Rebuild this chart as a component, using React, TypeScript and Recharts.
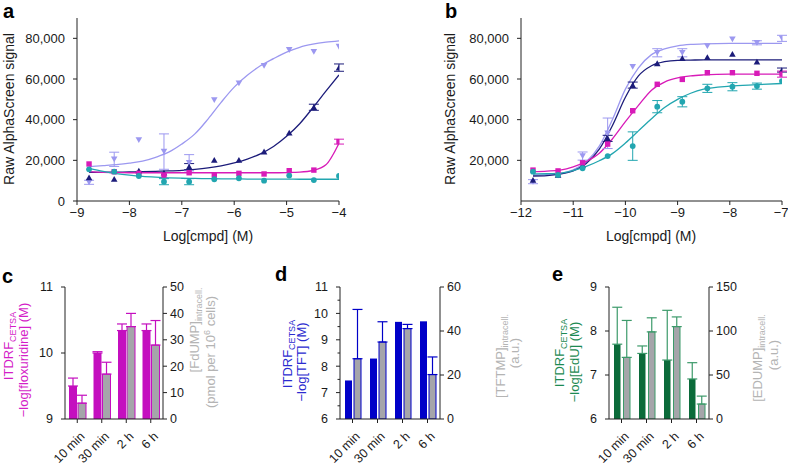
import { Bar, ComposedChart, ErrorBar, Line, Scatter, XAxis, YAxis } from "recharts";

const FONT = '"Liberation Sans", Arial, sans-serif';
const INK = "#1a1a1a";

// ---- panels a / b: AlphaScreen dose-response ----
const doseA = [-8.77, -8.29, -7.82, -7.34, -6.86, -6.38, -5.91, -5.43, -4.95, -4.48, -4.0];
const aLavender = [9200, 20500, 30000, 24300, 18800, 49700, 57900, 66500, 74300, 73400, 75900];
const aLavenderErr = [1000, 3500, null, 8700, 4000, null, null, null, null, null, null];
const aNavy = [11600, 10800, 14900, 13900, 16900, 20200, 20200, 24300, 33600, 46100, 65600];
const aNavyErr = [null, null, null, null, 1500, null, null, null, null, 1500, 1800];
const aMagenta = [18200, 14400, 13600, 12800, 13900, 12800, 13600, 13300, 14900, 15200, 29200];
const aMagentaErr = [null, null, null, null, null, null, null, null, null, null, 1200];
const aTeal = [15600, 14400, 12300, 9500, 9500, 10700, 11200, 10000, 12500, 10300, 12300];
const aTealErr = [null, null, null, 1500, 1500, null, null, null, null, null, null];

// fitted curves
const fitA = [-8.77, -8.5, -8.25, -8, -7.75, -7.5, -7.25, -7, -6.75, -6.5, -6.25, -6, -5.75, -5.5, -5.25, -5, -4.75, -4.5, -4.25, -4];
const fitALavender = [16900, 17400, 17900, 18600, 19600, 21500, 24000, 28000, 33000, 40300, 48500, 56000, 61800, 66500, 70000, 73200, 75600, 77100, 78100, 78800];
const fitANavy = [14100, 14100, 14200, 14300, 14400, 14600, 14800, 15100, 15600, 16300, 17300, 18700, 20600, 23200, 26800, 31800, 38000, 45800, 54000, 62000];
const fitAMagenta = [14400, 14100, 14000, 13900, 13900, 13900, 13900, 13900, 13900, 13900, 13900, 13900, 13900, 13900, 13900, 14000, 14200, 15000, 17800, 28400];
const fitATeal = [16100, 14600, 13500, 12700, 12100, 11700, 11400, 11200, 11100, 11000, 10900, 10900, 10800, 10800, 10800, 10800, 10700, 10700, 10700, 10700];

const doseB = [-11.77, -11.29, -10.82, -10.34, -9.86, -9.39, -8.91, -8.43, -7.95, -7.48, -7.0];
const bLavender = [9500, 12500, 22100, 33300, 66000, 72900, 72900, 76200, 79500, 77800, 80000];
const bLavenderErr = [1000, null, 2000, 7500, null, 2000, 2000, null, null, 1000, 1500];
const bNavy = [10300, 12800, 17700, 30800, 57000, 67700, 70200, 70700, 72300, 68500, 64400];
const bNavyErr = [null, null, null, 1500, 1500, null, null, null, null, null, 1000];
const bMagenta = [15200, 14800, 18800, 28000, 44400, 57400, 59800, 63100, 63100, 62800, 62400];
const bMagentaErr = [null, null, null, null, null, null, null, null, null, null, 1500];
const bTeal = [14400, 12800, 16100, 22100, 27000, 46400, 48800, 55400, 56200, 56500, 59000];
const bTealErr = [null, null, null, null, 7000, 3000, 2500, 2000, 2000, 1500, null];

const fitB = [-11.77, -11.5, -11.25, -11, -10.75, -10.5, -10.25, -10, -9.75, -9.5, -9.25, -9, -8.75, -8.5, -8, -7.5, -7];
const fitBLavender = [12800, 13000, 13500, 15300, 19300, 27000, 40000, 55000, 65500, 72000, 74800, 76300, 77000, 77300, 77500, 77500, 77500];
const fitBNavy = [12300, 12500, 13200, 14800, 18500, 25500, 37000, 51000, 61500, 66500, 68500, 69200, 69300, 69400, 69400, 69400, 69400];
const fitBMagenta = [14400, 14700, 15200, 16800, 19500, 23500, 30500, 39000, 47000, 54500, 58500, 60500, 61500, 62000, 62400, 62400, 62400];
const fitBTeal = [13300, 13400, 13700, 15000, 17000, 19800, 23300, 28500, 34500, 40500, 46000, 50000, 53000, 55000, 56500, 57200, 57800];

const signalTicksA = [0, 20000, 40000, 60000, 80000];
const signalTicksB = [20000, 40000, 60000, 80000];
const logTicksA = [-9, -8, -7, -6, -5, -4];
const logTicksB = [-12, -11, -10, -9, -8, -7];

// ---- panels c / d / e: ITDRF vs intracellular nucleotide ----
const times = ["10 min", "30 min", "2 h", "6 h"];
const floxItdrf = [9.5, 10.0, 10.34, 10.34];
const floxItdrfErr = [0.12, 0.02, 0.1, 0.1];
const fdump = [6, 17, 35, 28];
const fdumpErr = [3, 4.5, 5, 9.3];
const tftItdrf = [7.46, 8.29, 9.68, 9.7];
const tftmp = [27.4, 35, 41.1, 20.2];
const tftmpErr = [22.4, 9.2, 1.9, 8];
const eduItdrf = [7.7, 7.49, 7.34, 6.91];
const eduItdrfErr = [0.84, 0.17, 1.13, 0.37];
const edump = [70, 99, 105, 17];
const edumpErr = [42, 16, 11, 9];

const C = {
  lavender: "#9c98f0",
  navy: "#1c1c7a",
  magenta: "#d81bb8",
  teal: "#22a6b0",
  flox: "#c40fbf",
  floxText: "#d41ec8",
  tft: "#0000c8",
  tftText: "#2b2bd0",
  edu: "#0b6b3a",
  eduErr: "#3c9a6a",
  eduText: "#1d8a52",
  gray: "#a5a5aa",
  grayText: "#b4b4b4",
};

const pts = (dose: number[], y: number[], err: (number | null)[]) =>
  dose.map((x, i) => ({ x, y: y[i], err: err[i] }));
const fit = (xs: number[], ys: number[]) => xs.map((x, i) => ({ x, y: ys[i] }));

const minus = (v: number) => (v < 0 ? "\u2212" + Math.abs(v) : String(v));
const thousands = (v: number) => v.toLocaleString("en-US");

const shapes: Record<string, (p: any) => any> = {
  down: (p) => <path d={`M${p.cx - 3.3},${p.cy - 2.8}h6.6l-3.3,5.8z`} fill={p.fill} />,
  up: (p) => <path d={`M${p.cx - 3.3},${p.cy + 2.8}h6.6l-3.3,-5.8z`} fill={p.fill} />,
  square: (p) => <rect x={p.cx - 2.7} y={p.cy - 2.7} width={5.4} height={5.4} fill={p.fill} />,
  circle: (p) => <circle cx={p.cx} cy={p.cy} r={2.9} fill={p.fill} />,
};

type Series = { name: string; color: string; shape: string; points: any[]; curve: any[] };

function DoseChart({ series, domain, ticks, yTicks, margin, width }: any) {
  const tickStyle = { fill: INK, fontSize: 13, fontFamily: FONT };
  return (
    <ComposedChart width={width} height={245} margin={margin}>
      <XAxis
        type="number"
        dataKey="x"
        domain={domain}
        ticks={ticks}
        allowDataOverflow
        tickFormatter={minus}
        tick={tickStyle}
        tickSize={4}
        tickMargin={3}
        height={44}
        stroke="#222"
      />
      <YAxis
        type="number"
        dataKey="y"
        domain={[0, 90000]}
        ticks={yTicks}
        allowDataOverflow
        tickFormatter={thousands}
        tick={tickStyle}
        tickSize={4}
        tickMargin={8}
        width={60}
        stroke="#222"
      />
      {series.map((s: Series) => (
        <Line
          key={s.name + "-fit"}
          data={s.curve}
          dataKey="y"
          type="monotone"
          stroke={s.color}
          strokeWidth={1.3}
          dot={false}
          isAnimationActive={false}
        />
      ))}
      {series.map((s: Series) => (
        <Scatter
          key={s.name}
          data={s.points}
          dataKey="y"
          fill={s.color}
          shape={shapes[s.shape]}
          isAnimationActive={false}
        >
          <ErrorBar dataKey="err" direction="y" width={5} stroke={s.color} strokeWidth={1} />
        </Scatter>
      ))}
    </ComposedChart>
  );
}

const seriesA: Series[] = [
  { name: "lavender", color: C.lavender, shape: "down", points: pts(doseA, aLavender, aLavenderErr), curve: fit(fitA, fitALavender) },
  { name: "navy", color: C.navy, shape: "up", points: pts(doseA, aNavy, aNavyErr), curve: fit(fitA, fitANavy) },
  { name: "magenta", color: C.magenta, shape: "square", points: pts(doseA, aMagenta, aMagentaErr), curve: fit(fitA, fitAMagenta) },
  { name: "teal", color: C.teal, shape: "circle", points: pts(doseA, aTeal, aTealErr), curve: fit(fitA, fitATeal) },
];
const seriesB: Series[] = [
  { name: "lavender", color: C.lavender, shape: "down", points: pts(doseB, bLavender, bLavenderErr), curve: fit(fitB, fitBLavender) },
  { name: "navy", color: C.navy, shape: "up", points: pts(doseB, bNavy, bNavyErr), curve: fit(fitB, fitBNavy) },
  { name: "magenta", color: C.magenta, shape: "square", points: pts(doseB, bMagenta, bMagentaErr), curve: fit(fitB, fitBMagenta) },
  { name: "teal", color: C.teal, shape: "circle", points: pts(doseB, bTeal, bTealErr), curve: fit(fitB, fitBTeal) },
];

// value-axis tick: draws its own tick mark so minor ticks can be shorter
function ValueTick({ x, y, payload, side, minor }: any) {
  const v = payload.value;
  const major = !minor || Number.isInteger(v / minor.every);
  const len = major ? 4 : 2.5;
  const dir = side === "left" ? -1 : 1;
  return (
    <g>
      <line x1={x} x2={x + dir * len} y1={y} y2={y} stroke="#222" strokeWidth={1} />
      {major && (
        <text
          x={x + dir * (side === "left" ? 12 : 7)}
          y={y}
          dy="0.35em"
          textAnchor={side === "left" ? "end" : "start"}
          fontSize={12.5}
          fontFamily={FONT}
          fill={INK}
        >
          {v}
        </text>
      )}
    </g>
  );
}

function TimeTick({ x, y, payload }: any) {
  const tx = x + 5;
  const ty = y + 9;
  return (
    <text
      x={tx}
      y={ty}
      transform={`rotate(-45, ${tx}, ${ty})`}
      textAnchor="end"
      dy="0.35em"
      fontSize={12.5}
      fontFamily={FONT}
      fill={INK}
    >
      {payload.value}
    </text>
  );
}

function TimeChart({ data, left, right, width, margin, color, errColor, barSize, barGap, leftErr }: any) {
  return (
    <ComposedChart width={width} height={195} margin={margin} data={data} barSize={barSize} barGap={barGap}>
      <XAxis dataKey="t" type="category" height={46} interval={0} tick={<TimeTick />} tickSize={4} stroke="#222" />
      <YAxis
        yAxisId="L"
        orientation="left"
        width={40}
        domain={left.domain}
        ticks={left.ticks}
        allowDataOverflow
        tickLine={false}
        tickSize={0}
        tickMargin={0}
        interval={0}
        tick={<ValueTick side="left" minor={left.minor} />}
        stroke="#222"
      />
      <YAxis
        yAxisId="R"
        orientation="right"
        width={30}
        domain={right.domain}
        ticks={right.ticks}
        allowDataOverflow
        tickLine={false}
        tickSize={0}
        tickMargin={0}
        interval={0}
        tick={<ValueTick side="right" />}
        stroke="#222"
      />
      <Bar yAxisId="L" dataKey="itdrf" fill={color} isAnimationActive={false}>
        {leftErr && <ErrorBar dataKey="itdrfErr" direction="y" width={5} stroke={errColor} strokeWidth={1.2} />}
      </Bar>
      <Bar yAxisId="R" dataKey="conc" fill={C.gray} stroke={errColor} strokeWidth={1} isAnimationActive={false}>
        <ErrorBar dataKey="concErr" direction="y" width={5} stroke={errColor} strokeWidth={1.2} />
      </Bar>
    </ComposedChart>
  );
}

const rows = (itdrf: number[], itdrfErr: number[] | null, conc: number[], concErr: number[]) =>
  times.map((t, i) => ({
    t,
    itdrf: itdrf[i],
    itdrfErr: itdrfErr ? [0, itdrfErr[i]] : undefined,
    conc: conc[i],
    concErr: [0, concErr[i]],
  }));

function VText({ x, y, color, size = 13, children }: any) {
  return (
    <text
      x={x}
      y={y}
      transform={`rotate(-90, ${x}, ${y})`}
      textAnchor="middle"
      fontSize={size}
      fontFamily={FONT}
      fill={color}
    >
      {children}
    </text>
  );
}

const Sub = ({ children }: any) => (
  <tspan fontSize={9} dy={3}>
    {children}
  </tspan>
);

function Overlay() {
  const letter = { fontSize: 20, fontWeight: 700, fontFamily: FONT, fill: "#000" };
  return (
    <svg width={788} height={465} style={{ position: "absolute", left: 0, top: 0, pointerEvents: "none" }}>
      <text x={3} y={18} {...letter}>a</text>
      <text x={445} y={18} {...letter}>b</text>
      <text x={2} y={283} {...letter}>c</text>
      <text x={275} y={281} {...letter}>d</text>
      <text x={552} y={281} {...letter}>e</text>

      <VText x={14} y={109} color={INK} size={14}>Raw AlphaScreen signal</VText>
      <VText x={455} y={109} color={INK} size={14}>Raw AlphaScreen signal</VText>
      <text x={208} y={241} textAnchor="middle" fontSize={14} fontFamily={FONT} fill={INK}>Log[cmpd] (M)</text>
      <text x={651} y={241} textAnchor="middle" fontSize={14} fontFamily={FONT} fill={INK}>Log[cmpd] (M)</text>

      <VText x={13} y={346} color={C.floxText}>ITDRF<Sub>CETSA</Sub></VText>
      <VText x={27.5} y={360} color={C.floxText}>{"\u2212log[floxuridine] (M)"}</VText>
      <VText x={199} y={330} color={C.grayText}>[FdUMP]<Sub>intracell.</Sub></VText>
      <VText x={215} y={352} color={C.grayText}>
        (pmol per 10<tspan fontSize={9} dy={-5}>6</tspan>
        <tspan dy={5}> cells)</tspan>
      </VText>

      <VText x={292} y={354} color={C.tftText}>ITDRF<Sub>CETSA</Sub></VText>
      <VText x={306} y={362} color={C.tftText}>{"\u2212log[TFT] (M)"}</VText>
      <VText x={505} y={356} color={C.grayText}>[TFTMP]<Sub>intracell.</Sub></VText>
      <VText x={519} y={353} color={C.grayText}>(a.u.)</VText>

      <VText x={564} y={353} color={C.eduText}>ITDRF<Sub>CETSA</Sub></VText>
      <VText x={579} y={362} color={C.eduText}>{"\u2212log[EdU] (M)"}</VText>
      <VText x={762} y={358} color={C.grayText}>[EDUMP]<Sub>intracell.</Sub></VText>
      <VText x={778} y={355} color={C.grayText}>(a.u.)</VText>
    </svg>
  );
}

const box = (left: number, top: number) => ({ position: "absolute" as const, left, top });

export default function App() {
  return (
    <div style={{ position: "absolute", left: 0, top: 0, width: 788, height: 465, background: "#fff", fontFamily: FONT }}>
      <div style={box(0, 0)}>
        <DoseChart
          series={seriesA}
          domain={[-9, -4]}
          ticks={logTicksA}
          yTicks={signalTicksA}
          width={350}
          margin={{ top: 18, right: 11, left: 17, bottom: 0 }}
        />
      </div>
      <div style={box(440, 0)}>
        <DoseChart
          series={seriesB}
          domain={[-12, -7]}
          ticks={logTicksB}
          yTicks={signalTicksB}
          width={348}
          margin={{ top: 18, right: 6, left: 21, bottom: 0 }}
        />
      </div>
      <div style={box(0, 270)}>
        <TimeChart
          data={rows(floxItdrf, floxItdrfErr, fdump, fdumpErr)}
          left={{ domain: [9, 11], ticks: [9, 10, 11] }}
          right={{ domain: [0, 50], ticks: [0, 10, 20, 30, 40, 50] }}
          width={240}
          margin={{ top: 17, right: 47, left: 25, bottom: 0 }}
          color={C.flox}
          errColor={C.flox}
          barSize={8}
          barGap={1}
          leftErr
        />
      </div>
      <div style={box(260, 270)}>
        <TimeChart
          data={rows(tftItdrf, null, tftmp, tftmpErr)}
          left={{ domain: [6, 11], ticks: [6, 6.5, 7, 7.5, 8, 8.5, 9, 9.5, 10, 10.5, 11], minor: { every: 1 } }}
          right={{ domain: [0, 60], ticks: [0, 20, 40, 60] }}
          width={240}
          margin={{ top: 17, right: 30, left: 40, bottom: 0 }}
          color={C.tft}
          errColor={C.tft}
          barSize={7}
          barGap={2}
        />
      </div>
      <div style={box(520, 270)}>
        <TimeChart
          data={rows(eduItdrf, eduItdrfErr, edump, edumpErr)}
          left={{ domain: [6, 9], ticks: [6, 7, 8, 9] }}
          right={{ domain: [0, 150], ticks: [0, 50, 100, 150] }}
          width={268}
          margin={{ top: 17, right: 49, left: 49, bottom: 0 }}
          color={C.edu}
          errColor={C.eduErr}
          barSize={6.5}
          barGap={3}
          leftErr
        />
      </div>
      <Overlay />
    </div>
  );
}
